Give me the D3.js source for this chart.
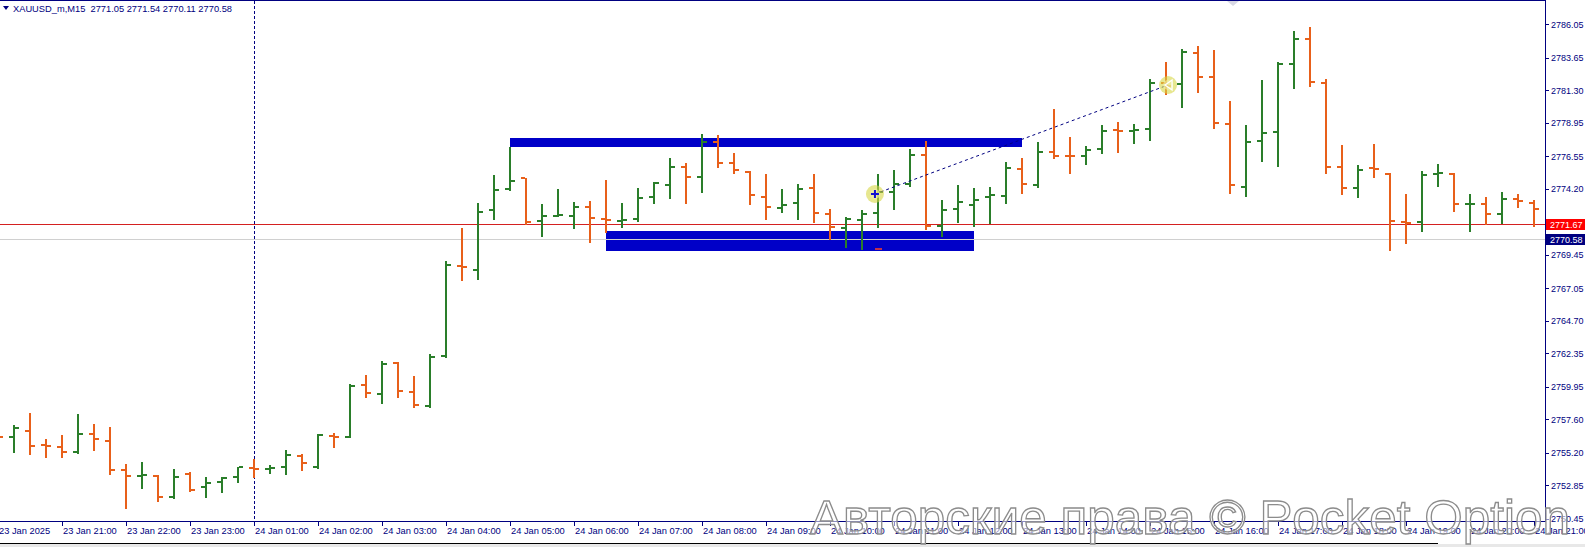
<!DOCTYPE html>
<html><head><meta charset="utf-8">
<script src="https://cdn.jsdelivr.net/npm/d3@7"></script>
<style>html,body{margin:0;padding:0;background:#fff;overflow:hidden}</style>
</head><body><svg id="c" width="1585" height="547"></svg>
<script>
// ---- data (XAUUSD_m, M15) ----
const barIndex = d3.range(97); // 23 Jan 20:00 ... 24 Jan 21:00 (no 00:00 hour)
const open  = [2756.55,2756.36,2756.79,2755.75,2755.64,2755.28,2756.53,2756.07,2753.96,2753.50,
2753.53,2752.04,2753.67,2752.71,2753.12,2753.48,2754.10,2754.05,2754.20,2754.97,
2754.20,2756.41,2756.36,2760.08,2759.43,2761.64,2759.60,2758.57,2762.15,2768.65,
2768.36,2772.68,2774.19,2774.96,2771.91,2772.27,2772.25,2772.92,2772.03,2771.90,
2772.01,2773.64,2774.48,2775.80,2775.08,2777.60,2776.04,2775.44,2773.64,2772.85,
2773.16,2774.29,2772.37,2771.41,2771.99,2772.49,2774.00,2774.55,2776.64,2771.53,
2772.75,2773.04,2773.64,2773.69,2775.63,2774.48,2776.88,2776.60,2776.59,2777.07,
2778.42,2778.36,2778.51,2781.85,2781.75,2784.01,2782.28,2778.85,2774.36,2777.67,
2778.32,2783.19,2784.97,2781.85,2775.80,2774.24,2775.68,2775.27,2771.84,2771.84,
2775.24,2775.27,2773.08,2773.09,2772.39,2773.45,2773.20];
const high  = [2756.75,2757.20,2758.08,2756.17,2756.48,2757.99,2757.27,2757.03,2754.37,2754.51,
2753.60,2754.03,2753.79,2753.48,2753.43,2754.20,2754.73,2754.35,2755.40,2755.10,
2756.53,2756.60,2760.13,2760.80,2761.83,2761.76,2760.73,2762.31,2769.03,2771.36,
2773.16,2775.20,2777.19,2775.01,2773.09,2774.17,2773.28,2773.30,2774.84,2773.16,
2774.24,2774.67,2776.40,2776.04,2778.15,2778.10,2776.76,2775.51,2775.27,2774.17,
2774.55,2775.27,2772.73,2772.15,2772.68,2775.27,2775.56,2777.05,2777.67,2773.40,
2774.48,2774.24,2774.36,2776.16,2776.40,2777.60,2779.93,2777.91,2777.31,2778.80,
2779.04,2778.85,2782.09,2783.31,2784.27,2784.49,2784.20,2780.53,2778.80,2782.04,
2783.31,2785.59,2785.83,2782.09,2777.36,2775.92,2777.43,2775.32,2773.83,2775.49,
2775.99,2775.32,2773.83,2773.59,2773.95,2773.83,2773.40];
const low   = [2756.10,2755.28,2755.09,2754.92,2754.92,2755.16,2755.40,2753.65,2751.20,2752.64,
2751.73,2751.96,2752.45,2751.99,2752.35,2753.07,2753.43,2753.75,2753.70,2753.95,
2754.08,2755.64,2756.30,2759.19,2758.80,2759.24,2758.47,2758.52,2762.10,2767.64,
2767.69,2772.01,2774.12,2771.67,2770.83,2772.25,2771.36,2770.40,2771.12,2771.48,
2771.90,2773.16,2773.52,2773.16,2774.00,2775.80,2775.32,2773.09,2772.01,2772.56,
2772.01,2771.84,2770.59,2769.99,2769.85,2771.43,2772.73,2774.43,2771.29,2770.83,
2771.84,2771.53,2771.77,2773.16,2773.88,2774.36,2776.40,2775.32,2775.97,2776.76,
2776.83,2777.48,2777.72,2781.03,2780.12,2781.20,2778.61,2773.88,2773.71,2776.23,
2775.87,2781.44,2781.61,2775.32,2773.81,2773.59,2775.03,2769.80,2770.33,2771.19,
2774.43,2772.63,2771.19,2771.65,2771.72,2772.92,2771.55];
const close = [2756.36,2756.96,2755.69,2755.65,2755.28,2756.53,2756.17,2753.96,2753.55,2753.58,
2752.04,2753.48,2752.52,2753.04,2753.36,2754.15,2754.00,2754.12,2755.04,2754.44,
2756.48,2756.36,2760.03,2759.53,2761.59,2759.67,2758.66,2762.12,2768.72,2768.60,
2772.56,2774.12,2774.79,2771.84,2772.25,2772.33,2772.92,2772.13,2771.96,2771.98,
2773.57,2774.60,2775.80,2775.08,2777.60,2776.09,2775.56,2773.76,2772.92,2773.04,
2774.19,2772.49,2771.48,2772.03,2772.39,2774.00,2774.53,2776.64,2771.53,2772.68,
2773.28,2773.40,2773.76,2775.73,2774.55,2776.83,2776.57,2776.55,2777.00,2778.39,
2778.36,2778.44,2781.85,2781.61,2784.08,2782.28,2778.92,2774.48,2777.60,2778.20,
2783.17,2784.97,2781.92,2775.80,2774.24,2775.56,2775.60,2771.91,2771.72,2775.20,
2775.32,2773.11,2773.14,2772.39,2773.45,2773.33,2772.73];

const timeTickIndex = [0,4,8,12,16,20,24,28,32,36,40,44,48,52,56,60,64,68,72,76,80,84,88,92,96];
const timeTickLabels = ["23 Jan 2025","23 Jan 21:00","23 Jan 22:00","23 Jan 23:00","24 Jan 01:00",
"24 Jan 02:00","24 Jan 03:00","24 Jan 04:00","24 Jan 05:00","24 Jan 06:00","24 Jan 07:00",
"24 Jan 08:00","24 Jan 09:00","24 Jan 10:00","24 Jan 11:00","24 Jan 12:00","24 Jan 13:00",
"24 Jan 14:00","24 Jan 15:00","24 Jan 16:00","24 Jan 17:00","24 Jan 18:00","24 Jan 19:00",
"24 Jan 20:00","24 Jan 21:00"];
const priceTicks = [2786.05,2783.65,2781.30,2778.95,2776.55,2774.20,2769.45,2767.05,2764.70,
2762.35,2759.95,2757.60,2755.20,2752.85,2750.45];
const priceTickLabels = ["2786.05","2783.65","2781.30","2778.95","2776.55","2774.20","2769.45",
"2767.05","2764.70","2762.35","2759.95","2757.60","2755.20","2752.85","2750.45"];

const askPrice = 2771.67, bidPrice = 2770.58;
const headerText = "XAUUSD_m,M15  2771.05 2771.54 2770.11 2770.58";
const separatorIndex = 16;
// rectangles: [startIndex, endIndex, priceTop, priceBottom]
const zoneStart = [32, 38];
const zoneEnd   = [64, 61];
const zoneTop   = [2777.84, 2771.17];
const zoneBot   = [2777.24, 2769.75];
// trend line (index, price)
const trendIdx = [54.81, 73.13];
const trendPx  = [2773.83, 2781.68];
const watermark = "Авторские права © Pocket Option";

// ---- layout ----
const W = 1585, H = 547;
const plotRight = 1545, plotBottom = 521;
const GREEN = "#2a7e2a", ORANGE = "#e8601a", NAVY = "#000080", BLUE = "#0000c8";
const FONT = "'Liberation Sans', Arial, sans-serif";

const x = d3.scaleLinear().domain([0, 96]).range([-2, 1534]);
const y = d3.scaleLinear().domain([2750.45, 2786.05]).range([518.7, 24.3]);

const svg = d3.select("#c");
svg.append("rect").attr("width", W).attr("height", H).attr("fill", "#fff");
svg.append("defs").append("clipPath").attr("id", "clip")
  .append("rect").attr("x", 0).attr("y", 1).attr("width", plotRight).attr("height", plotBottom - 1);

const plot = svg.append("g").attr("clip-path", "url(#clip)").attr("shape-rendering", "crispEdges");

// zones
plot.selectAll("rect.zone").data(zoneStart).join("rect")
  .attr("x", (d, i) => x(d)).attr("width", (d, i) => x(zoneEnd[i]) - x(d))
  .attr("y", (d, i) => Math.round(y(zoneTop[i])))
  .attr("height", (d, i) => Math.round(y(zoneBot[i])) - Math.round(y(zoneTop[i])))
  .attr("fill", BLUE);

// separator
plot.append("line").attr("x1", x(separatorIndex) + 0.5).attr("x2", x(separatorIndex) + 0.5)
  .attr("y1", 1).attr("y2", plotBottom).attr("stroke", NAVY).attr("stroke-dasharray", "3,2");

// bid / ask lines
plot.append("line").attr("x1", 0).attr("x2", plotRight)
  .attr("y1", Math.round(y(bidPrice)) + 0.5).attr("y2", Math.round(y(bidPrice)) + 0.5)
  .attr("stroke", "#d0d0d0");
plot.append("line").attr("x1", 0).attr("x2", plotRight)
  .attr("y1", Math.round(y(askPrice)) + 0.5).attr("y2", Math.round(y(askPrice)) + 0.5)
  .attr("stroke", "#d42020");

// bars
const data = barIndex.map(i => ({ i, o: open[i], h: high[i], l: low[i], c: close[i] }));
const bars = plot.selectAll("g.bar").data(data).join("g")
  .attr("fill", d => d.c >= d.o ? GREEN : ORANGE);
bars.append("rect").attr("x", d => x(d.i) - 1).attr("width", 2)
  .attr("y", d => Math.round(y(d.h)))
  .attr("height", d => Math.max(2, Math.round(y(d.l)) - Math.round(y(d.h)) + 1));
bars.append("rect").attr("x", d => x(d.i) - 5).attr("width", 4)
  .attr("y", d => Math.round(y(d.o)) - 1).attr("height", 2);
bars.append("rect").attr("x", d => x(d.i) + 1).attr("width", 4)
  .attr("y", d => Math.round(y(d.c)) - 1).attr("height", 2);

// small red mark in lower zone
plot.append("rect").attr("x", x(55) - 3).attr("width", 7).attr("y", Math.round(y(2769.94)))
  .attr("height", 2).attr("fill", "#c0304a");

// trend line and markers
const tl = plot.append("g").attr("shape-rendering", "auto");
tl.append("line").attr("x1", x(trendIdx[0])).attr("y1", y(trendPx[0]))
  .attr("x2", x(trendIdx[1])).attr("y2", y(trendPx[1]))
  .attr("stroke", NAVY).attr("stroke-dasharray", "3,3");
tl.selectAll("circle").data(trendIdx).join("circle")
  .attr("cx", d => x(d)).attr("cy", (d, i) => y(trendPx[i])).attr("r", 9)
  .attr("fill", "rgba(215,215,70,0.6)");
tl.selectAll("circle.in").data(trendIdx).join("circle").attr("class", "in")
  .attr("cx", d => x(d)).attr("cy", (d, i) => y(trendPx[i])).attr("r", 5)
  .attr("fill", "rgba(240,240,170,0.6)");
// cross marker
const cx0 = x(trendIdx[0]), cy0 = y(trendPx[0]);
tl.append("path").attr("d", `M${cx0-4},${cy0}H${cx0+4}M${cx0},${cy0-4}V${cy0+4}`)
  .attr("stroke", "#1010d0").attr("stroke-width", 2);
const cx1 = x(trendIdx[1]), cy1 = y(trendPx[1]);
tl.append("path").attr("d", `M${cx1+4},${cy1-5}L${cx1-3},${cy1}L${cx1+4},${cy1+5}Z`)
  .attr("fill", "none").attr("stroke", "#fff").attr("stroke-width", 1.3);

// frame
const frame = svg.append("g").attr("shape-rendering", "crispEdges");
frame.append("line").attr("x1", 0).attr("x2", plotRight).attr("y1", 0.5).attr("y2", 0.5).attr("stroke", NAVY);
frame.append("line").attr("x1", plotRight + 0.5).attr("x2", plotRight + 0.5).attr("y1", 0).attr("y2", plotBottom + 1).attr("stroke", NAVY);
frame.append("line").attr("x1", 0).attr("x2", plotRight + 1).attr("y1", plotBottom + 0.5).attr("y2", plotBottom + 0.5).attr("stroke", NAVY);
// shift marker
svg.append("path").attr("d", "M1227,1L1239,1L1233,6Z").attr("fill", "#d8d8e4");

// price axis
const pa = svg.append("g");
pa.selectAll("line").data(priceTicks).join("line").attr("shape-rendering", "crispEdges")
  .attr("x1", plotRight).attr("x2", plotRight + 4)
  .attr("y1", d => Math.round(y(d)) + 0.5).attr("y2", d => Math.round(y(d)) + 0.5).attr("stroke", NAVY);
pa.selectAll("text").data(priceTicks).join("text")
  .attr("x", 1551).attr("y", d => y(d) + 3.5)
  .attr("font-family", FONT).attr("font-size", 9).attr("fill", NAVY)
  .text((d, i) => priceTickLabels[i]);

// ask/bid labels
[[askPrice, "#ff0000"], [bidPrice, NAVY]].forEach(([p, col]) => {
  const yy = Math.round(y(p));
  svg.append("rect").attr("x", plotRight + 1).attr("y", yy - 5).attr("width", W - plotRight - 1)
    .attr("height", 11).attr("fill", col).attr("shape-rendering", "crispEdges");
  svg.append("text").attr("x", 1550).attr("y", yy + 3.5).attr("font-family", FONT)
    .attr("font-size", 9).attr("fill", "#fff").text(p.toFixed(2));
});

// time axis
const ta = svg.append("g");
ta.selectAll("line").data(timeTickIndex).join("line").attr("shape-rendering", "crispEdges")
  .attr("x1", d => x(d) + 0.5).attr("x2", d => x(d) + 0.5)
  .attr("y1", plotBottom).attr("y2", plotBottom + 5).attr("stroke", NAVY);
ta.selectAll("text").data(timeTickIndex).join("text")
  .attr("x", d => x(d) + 1).attr("y", 534)
  .attr("font-family", FONT).attr("font-size", 9.3).attr("fill", NAVY)
  .text((d, i) => timeTickLabels[i]);

// header
svg.append("path").attr("d", "M3,6L9,6L6,10Z").attr("fill", NAVY);
svg.append("text").attr("x", 13).attr("y", 11.5).attr("font-family", FONT)
  .attr("font-size", 9.3).attr("fill", NAVY).attr("xml:space", "preserve")
  .style("white-space", "pre").text(headerText);

// bottom window strip
svg.append("line").attr("x1", 0).attr("x2", 1438).attr("y1", 543.5).attr("y2", 543.5)
  .attr("stroke", "#000").attr("shape-rendering", "crispEdges");
svg.append("rect").attr("x", 0).attr("y", 544).attr("width", W).attr("height", 3).attr("fill", "#e8e8e8");

// watermark
svg.append("text").attr("x", 810).attr("y", 534).attr("font-family", FONT)
  .attr("font-size", 49).attr("textLength", 760).attr("lengthAdjust", "spacingAndGlyphs")
  .attr("fill", "rgba(255,255,255,0.55)").attr("stroke", "#8c8c8c").attr("stroke-width", 1.3)
  .text(watermark);
</script></body></html>
